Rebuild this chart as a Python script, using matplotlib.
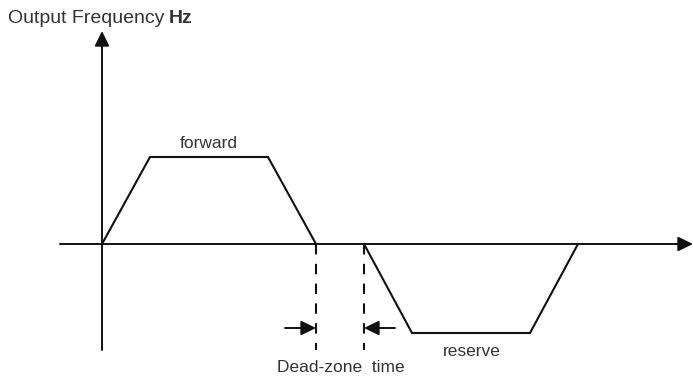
import matplotlib.pyplot as plt

# Time / frequency points of the two ramps (origin at the axes crossing)
t_forward = [0, 48, 166, 214]
f_forward = [0, 87, 87, 0]
t_reverse = [262, 310, 428, 476]
f_reverse = [0, -89, -89, 0]
dead_zone = [214, 262]

INK = '#111111'
TEXT = '#333333'

plt.rcParams['font.family'] = ['Liberation Sans', 'DejaVu Sans']

fig = plt.figure(figsize=(6.93, 3.76), dpi=100)
ax = fig.add_axes([0, 0, 1, 1])
ax.set_xlim(-102, 591)
ax.set_ylim(-132, 244)
ax.axis('off')

head = dict(arrowstyle='-|>,head_length=0.45,head_width=0.22', color=INK,
            lw=1.4, shrinkA=0, shrinkB=0, mutation_scale=20)

# axes with arrow heads
ax.annotate('', xy=(591, 0), xytext=(-42, 0), arrowprops=head)
ax.annotate('', xy=(0, 213), xytext=(0, -106), arrowprops=head)

# forward / reverse profiles
ax.plot(t_forward, f_forward, color=INK, lw=1.5, solid_joinstyle='miter')
ax.plot(t_reverse, f_reverse, color=INK, lw=1.5, solid_joinstyle='miter')

# dead-zone markers
for t in dead_zone:
    ax.plot([t, t], [0, -106], color=INK, lw=1.5, dashes=(5, 4.5))

ax.annotate('', xy=(dead_zone[0], -84), xytext=(dead_zone[0] - 31, -84), arrowprops=head)
ax.annotate('', xy=(dead_zone[1], -84), xytext=(dead_zone[1] + 31, -84), arrowprops=head)

ax.text(-94, 221, 'Output Frequency', fontsize=14, color=TEXT, va='baseline', ha='left')
ax.text(67, 221, 'Hz', fontsize=14, color=TEXT, va='baseline', ha='left', fontweight='bold')
ax.text(107, 101, 'forward', fontsize=12.5, color=TEXT, ha='center', va='center')
ax.text(370, -108, 'reserve', fontsize=12.5, color=TEXT, ha='center', va='center')
ax.text(239, -123, 'Dead-zone  time', fontsize=12.5, color=TEXT, ha='center', va='center')

fig.savefig('out.png', dpi=100)
